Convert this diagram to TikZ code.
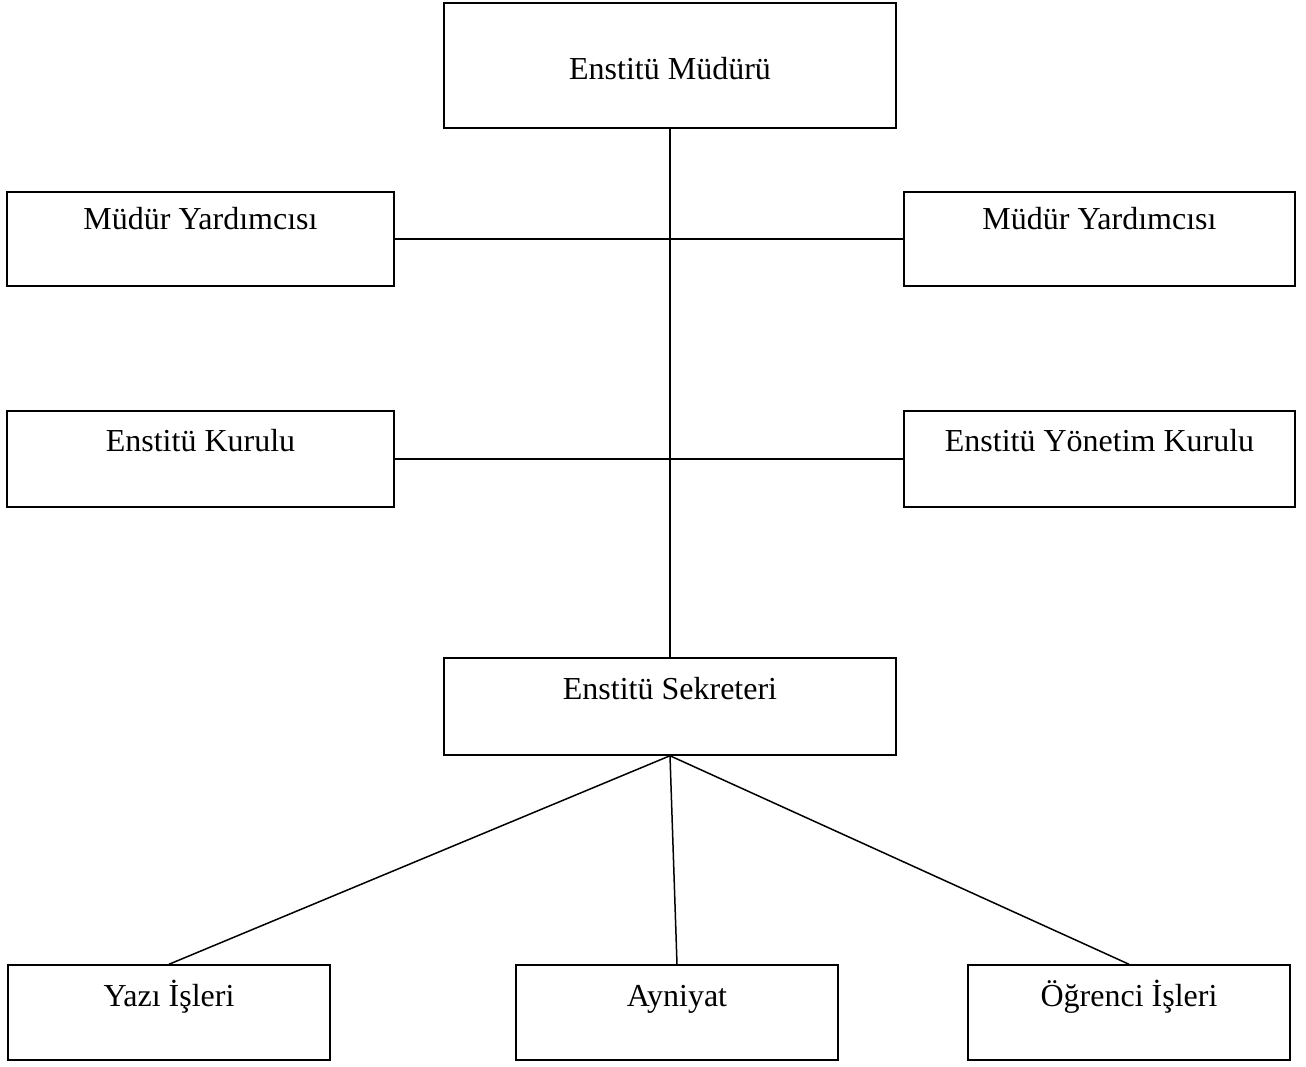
\documentclass[tikz,border=0pt]{standalone}
\usepackage{fontspec}
\setmainfont{Liberation Serif}
\usetikzlibrary{calc}
\tikzset{
  box/.style={draw, line width=1.5pt, rectangle, inner sep=0pt},
  lbl/.style={anchor=base, font=\fontsize{32}{38}\selectfont, inner sep=0pt},
  conn/.style={line width=1.5pt}
}
\begin{document}
\begin{tikzpicture}[x=1pt,y=-1pt]
\useasboundingbox (0,0) rectangle (1306,1066);
% boxes
\node[box, minimum width=452pt, minimum height=125pt] (top) at (670,65.5) {};
\node[box, minimum width=387pt, minimum height=94pt] (myl) at (200.5,239) {};
\node[box, minimum width=391pt, minimum height=94pt] (myr) at (1099.5,239) {};
\node[box, minimum width=387pt, minimum height=96pt] (kur) at (200.5,459) {};
\node[box, minimum width=391pt, minimum height=96pt] (yon) at (1099.5,459) {};
\node[box, minimum width=452pt, minimum height=97pt] (sek) at (670,706.5) {};
\node[box, minimum width=322pt, minimum height=95pt] (yaz) at (169,1012.5) {};
\node[box, minimum width=322pt, minimum height=95pt] (ayn) at (677,1012.5) {};
\node[box, minimum width=322pt, minimum height=95pt] (ogr) at (1129,1012.5) {};
% labels
\node[lbl] (ttop) at ($(top.north)+(0,77)$) {Enstitü Müdürü};
\node[lbl] (tmyl) at ($(myl.north)+(0,38)$) {Müdür Yardımcısı};
\node[lbl] (tmyr) at ($(myr.north)+(0,38)$) {Müdür Yardımcısı};
\node[lbl] (tkur) at ($(kur.north)+(0,41)$) {Enstitü Kurulu};
\node[lbl] (tyon) at ($(yon.north)+(0,41)$) {Enstitü Yönetim Kurulu};
\node[lbl] (tsek) at ($(sek.north)+(0,42)$) {Enstitü Sekreteri};
\node[lbl] (tyaz) at ($(yaz.north)+(0,42)$) {Yazı İşleri};
\node[lbl] (tayn) at ($(ayn.north)+(0,42)$) {Ayniyat};
\node[lbl] (togr) at ($(ogr.north)+(0,42)$) {Öğrenci İşleri};
% connectors
\draw[conn] (top.south) -- (sek.north);
\draw[conn] (myl.east) -- (myr.west);
\draw[conn] (kur.east) -- (yon.west);
\draw[conn] (sek.south) -- (yaz.north);
\draw[conn] (sek.south) -- (ayn.north);
\draw[conn] (sek.south) -- (ogr.north);
\end{tikzpicture}
\end{document}
